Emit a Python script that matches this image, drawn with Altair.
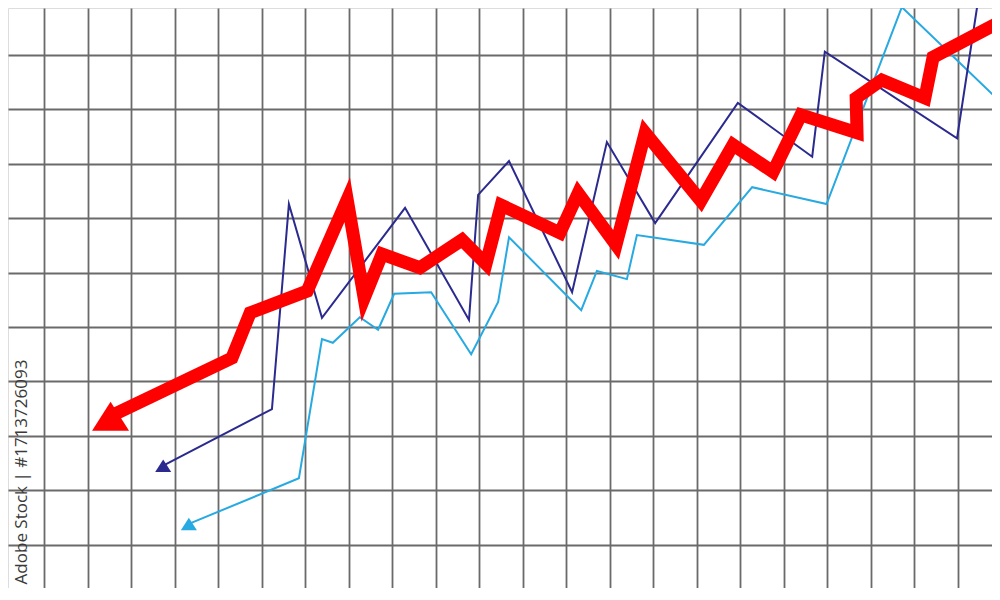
import altair as alt
import pandas as pd

# Values in grid units (x: columns from left edge, y: rows from bottom edge)
red_x = [2.53, 5.32, 5.74, 7.05, 7.97, 8.36, 8.77, 9.64, 10.61, 11.16, 11.51, 12.86, 13.28, 14.15, 14.82, 16.10, 16.84, 17.76, 18.40, 19.69, 19.67, 20.26, 21.25, 21.44, 22.98]
red_y = [3.36, 4.43, 5.26, 5.66, 7.34, 5.53, 6.34, 6.09, 6.60, 6.16, 7.24, 6.73, 7.46, 6.51, 8.57, 7.32, 8.35, 7.85, 8.90, 8.57, 9.21, 9.54, 9.21, 9.96, 10.61]

navy_x = [3.74, 6.24, 6.63, 7.39, 9.30, 10.77, 10.98, 11.69, 13.14, 13.94, 15.05, 16.95, 18.66, 18.95, 21.99, 22.58]
navy_y = [2.45, 3.49, 7.26, 5.17, 7.19, 5.13, 7.43, 8.05, 5.64, 8.40, 6.91, 9.12, 8.13, 10.06, 8.47, 11.56]

light_x = [4.33, 6.86, 7.39, 7.64, 8.26, 8.68, 9.05, 9.90, 10.82, 11.44, 11.69, 13.35, 13.71, 14.40, 14.63, 16.17, 17.28, 18.99, 20.72, 22.98]
light_y = [1.38, 2.22, 4.78, 4.71, 5.18, 4.95, 5.61, 5.64, 4.50, 5.46, 6.65, 5.31, 6.03, 5.88, 6.69, 6.51, 7.57, 7.26, 10.88, 9.14]

watermark = "Adobe Stock | #1713726093"

grid_x = list(range(1, 23))
grid_y = list(range(1, 11))

W, H = 984, 580
x_dom = [7.5 / 43.5, 991.5 / 43.5]
y_dom = [11 / 54.4, 591 / 54.4]

xs = alt.Scale(domain=x_dom, nice=False, zero=False)
ys = alt.Scale(domain=y_dom, nice=False, zero=False)
xax = alt.Axis(values=grid_x, grid=True, labels=False, ticks=False, domain=False,
               title=None, gridColor="#6a6a6a", gridWidth=1.8)
yax = alt.Axis(values=grid_y, grid=True, labels=False, ticks=False, domain=False,
               title=None, gridColor="#6a6a6a", gridWidth=1.8)

tri = "M-1,0.78L1,0.78L0,-0.78Z"

series = [
    ("light", light_x, light_y, "#27a9e1", 2, 256),
    ("navy", navy_x, navy_y, "#2b2a8f", 2, 256),
    ("red", red_x, red_y, "#ff0000", 13, 1369),
]

layers = []
for name, xv, yv, col, sw, msize in series:
    df = pd.DataFrame({"x": xv, "y": yv, "o": list(range(len(xv)))})
    line = alt.Chart(df).mark_line(color=col, strokeWidth=sw, strokeJoin="miter",
                                   strokeMiterLimit=10, clip=True).encode(
        x=alt.X("x:Q", scale=xs, axis=xax),
        y=alt.Y("y:Q", scale=ys, axis=yax),
        order="o:Q",
    )
    marker = alt.Chart(df.iloc[:1]).mark_point(shape=tri, filled=True, color=col,
                                               opacity=1, size=msize, strokeWidth=0,
                                               clip=True).encode(
        x=alt.X("x:Q", scale=xs, axis=xax),
        y=alt.Y("y:Q", scale=ys, axis=yax),
    )
    layers += [line, marker]

text = alt.Chart(pd.DataFrame({"t": [watermark]})).mark_text(
    angle=270, align="center", baseline="middle", font="Open Sans",
    fontSize=17, color="#3a3a3a").encode(
    text="t:N", x=alt.value(14), y=alt.value(464))
layers.append(text)

chart = alt.layer(*layers).properties(width=W, height=H, padding=0).configure_view(
    stroke=None).configure(background="white")

chart.save("out.html", embed_options={"renderer": "svg", "actions": False})
